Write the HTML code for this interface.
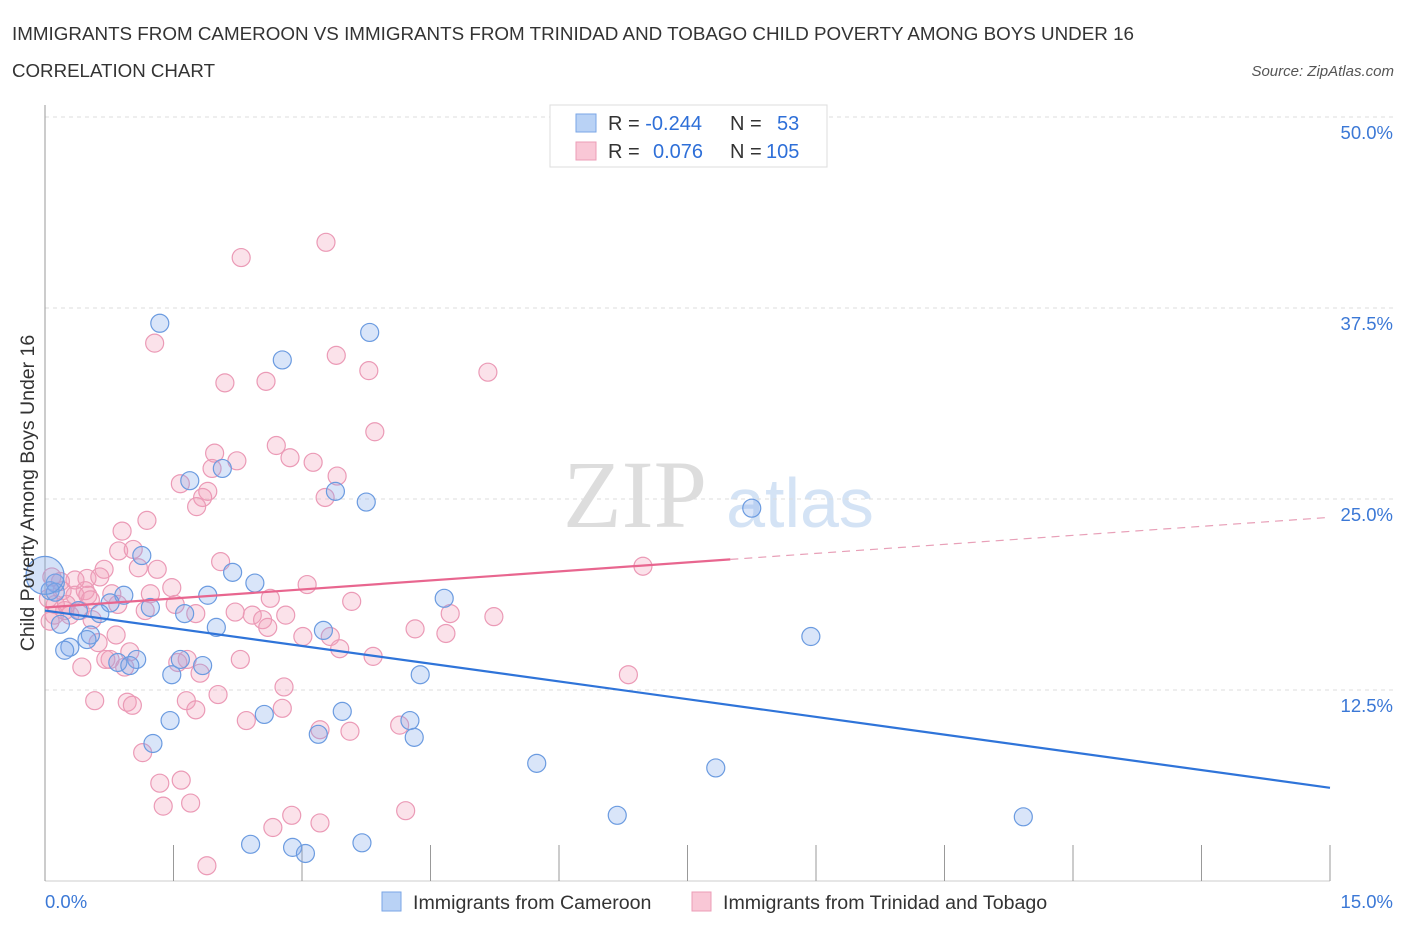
<!DOCTYPE html>
<html><head><meta charset="utf-8"><style>
body{margin:0;background:#fff;font-family:"Liberation Sans",sans-serif;}
svg{display:block}
</style></head><body>
<svg id="chart" width="1406" height="930" viewBox="0 0 1406 930" xmlns="http://www.w3.org/2000/svg">
<text x="12" y="40" font-size="18" fill="#333" textLength="1122" lengthAdjust="spacingAndGlyphs">IMMIGRANTS FROM CAMEROON VS IMMIGRANTS FROM TRINIDAD AND TOBAGO CHILD POVERTY AMONG BOYS UNDER 16</text>
<text x="12" y="77" font-size="18" fill="#333" textLength="203" lengthAdjust="spacingAndGlyphs">CORRELATION CHART</text>
<text x="1394" y="76" font-size="15" fill="#555" text-anchor="end" font-style="italic">Source: ZipAtlas.com</text>
<g>
<text x="635" y="527" font-size="96" fill="#ddd" text-anchor="middle" font-family="Liberation Serif, serif">ZIP</text>
<text x="800" y="527" font-size="70" fill="#d4e3f5" text-anchor="middle">atlas</text>
</g>
<g id="grid"></g>
<g id="axes"></g>
<g id="marks"></g>
<text transform="translate(34,493) rotate(-90)" font-size="19.5" fill="#333" text-anchor="middle">Child Poverty Among Boys Under 16</text>
<g>
<rect x="550" y="105" width="277" height="62" fill="#fff" stroke="#ddd"/>
<rect x="576" y="114" width="20" height="18" fill="#b9d2f5" stroke="#7aa6e6"/>
<rect x="576" y="142" width="20" height="18" fill="#f9c7d6" stroke="#ec9cb7"/>
<text x="608" y="130" font-size="20" fill="#333">R = <tspan fill="#2e6fd8">-0.244</tspan></text>
<text x="730" y="130" font-size="20" fill="#333">N = </text><text x="777" y="130" font-size="20" fill="#2e6fd8">53</text>
<text x="608" y="158" font-size="20" fill="#333">R = </text><text x="653" y="158" font-size="20" fill="#2e6fd8">0.076</text>
<text x="730" y="158" font-size="20" fill="#333">N = </text><text x="766" y="158" font-size="20" fill="#2e6fd8">105</text>
</g>
<g>
<rect x="382" y="892" width="19" height="19" fill="#b9d2f5" stroke="#7aa6e6"/>
<text x="413" y="909" font-size="19.6" fill="#333">Immigrants from Cameroon</text>
<rect x="692" y="892" width="19" height="19" fill="#f9c7d6" stroke="#ec9cb7"/>
<text x="723" y="909" font-size="19.6" fill="#333">Immigrants from Trinidad and Tobago</text>
</g>
</svg>
<script>
const blueX=[1.34,3.79,2.77,1.69,2.07,3.39,3.75,8.25,1.13,2.19,2.45,1.90,4.66,0.92,0.76,1.23,1.63,0.64,0.39,0.12,0.06,0.18,0.53,0.29,0.49,2.00,3.25,0.85,1.07,0.99,1.84,1.48,1.58,4.38,8.94,2.56,3.47,4.26,1.46,1.26,3.19,4.31,5.74,7.83,6.68,11.42,2.40,2.89,3.04,3.70,0.12,0.23];
const blueY=[36.5,35.9,34.1,26.2,27.0,25.5,24.8,24.4,21.3,20.2,19.5,18.7,18.5,18.7,18.2,17.9,17.5,17.5,17.7,19.5,19.0,16.8,16.1,15.3,15.8,16.6,16.4,14.3,14.5,14.1,14.1,13.5,14.5,13.5,16.0,10.9,11.1,10.5,10.5,9.0,9.6,9.4,7.7,7.4,4.3,4.2,2.4,2.2,1.8,2.5,18.9,15.1];
const bigX=[0.0], bigY=[20.0];
const pinkX=[3.28,2.29,1.28,3.40,2.10,2.58,3.78,5.17,3.85,2.70,1.98,2.86,2.24,3.13,1.95,3.41,1.58,1.90,1.84,3.27,1.77,1.19,0.90,0.86,1.03,2.05,1.09,1.31,6.98,0.69,0.49,0.64,0.35,0.18,0.08,3.06,1.48,1.23,0.78,0.47,0.85,1.17,1.52,3.58,1.76,2.42,2.81,2.54,4.73,5.24,0.23,0.12,0.29,0.41,0.55,0.06,4.32,4.68,2.60,3.33,0.83,3.44,0.62,3.83,0.99,0.76,0.93,1.66,1.55,1.81,0.43,6.81,2.79,2.02,0.58,0.96,1.65,1.02,1.76,2.35,2.77,4.14,3.56,3.21,1.14,1.34,1.59,1.70,1.38,4.21,2.88,3.21,2.66,1.89,0.20,0.35,0.50,0.04,0.11,0.71,2.28,2.22,3.01,2.63,0.25,0.53];
const pinkY=[41.8,40.8,35.2,34.4,32.6,32.7,33.4,33.3,29.4,28.5,28.0,27.7,27.5,27.4,27.0,26.5,26.0,25.5,25.1,25.1,24.5,23.6,22.9,21.6,21.7,20.9,20.5,20.4,20.6,20.4,19.8,19.9,19.7,19.6,19.9,19.4,19.2,18.8,18.8,19.0,18.1,17.7,18.1,18.3,17.5,17.4,17.4,17.1,17.5,17.3,17.7,18.1,17.4,17.7,17.1,17.0,16.5,16.2,16.6,16.0,16.1,15.2,15.6,14.7,15.0,14.5,14.0,14.5,14.3,13.6,14.0,13.5,12.7,12.2,11.8,11.7,11.8,11.5,11.2,10.5,11.3,10.2,9.8,9.9,8.4,6.4,6.6,5.1,4.9,4.6,4.3,3.8,3.5,1.0,19.0,18.7,18.7,18.5,17.4,14.5,14.5,17.6,16.0,18.5,18.1,18.4];
const blueTrend=[17.7,6.1];   // y at x=0, x=15
const pinkTrend=[17.9,23.8];
const pinkSolidEnd=[8.0];
const yTicks=[12.5,25,37.5,50];
const yTickLabels=["12.5%","25.0%","37.5%","50.0%"];
const xTicks=[0,1.5,3,4.5,6,7.5,9,10.5,12,13.5,15];

const X0=45,X1=1330,Y0=881,PXY=15.28;
const sx=v=>X0+(v/15)*(X1-X0);
const sy=v=>Y0-v*PXY;
const NS="http://www.w3.org/2000/svg";
function mk(tag,attrs,parent){const e=document.createElementNS(NS,tag);for(const k in attrs)e.setAttribute(k,attrs[k]);parent.appendChild(e);return e;}
const grid=document.getElementById('grid'),axes=document.getElementById('axes'),marks=document.getElementById('marks');
yTicks.forEach((t,i)=>{
 const l=mk('line',{x1:X0,x2:1395,y1:sy(t),y2:sy(t),stroke:'#ddd','stroke-dasharray':'4,4'},grid);
 
 
 const tx=mk('text',{x:1393,y:sy(t)+22,'font-size':18.5,fill:'#3b78d6','text-anchor':'end'},axes);
 tx.textContent=yTickLabels[i];
 
 
});
const ax=mk('line',{x1:X0,x2:X0,y1:105,y2:Y0,stroke:'#999'},axes);


const bx=mk('line',{x1:X0,x2:X1,y1:Y0,y2:Y0,stroke:'#ccc'},axes);


xTicks.forEach(t=>{
 const l=mk('line',{x1:sx(t),x2:sx(t),y1:845,y2:Y0,stroke:'#999'},axes);
 
 
});
const xl=mk('text',{x:45,y:908,'font-size':18.5,fill:'#3b78d6'},axes);xl.textContent='0.0%';


const xr=mk('text',{x:1393,y:908,'font-size':18.5,fill:'#3b78d6','text-anchor':'end'},axes);xr.textContent='15.0%';



pinkX.forEach((x,i)=>{
 const c=mk('circle',{cx:sx(x),cy:sy(pinkY[i]),r:9,fill:'rgba(243,160,187,0.3)',stroke:'#eb9ab6','stroke-width':1.2},marks);
 
 
});
blueX.forEach((x,i)=>{
 const c=mk('circle',{cx:sx(x),cy:sy(blueY[i]),r:9,fill:'rgba(130,170,235,0.3)',stroke:'#6b9be0','stroke-width':1.2},marks);
 
 
});
bigX.forEach((x,i)=>{
 const c=mk('circle',{cx:sx(x),cy:sy(bigY[i]),r:19,fill:'rgba(130,170,235,0.35)',stroke:'#6b9be0','stroke-width':1.2},marks);
 
 
});
const bl=mk('line',{x1:sx(0),y1:sy(blueTrend[0]),x2:sx(15),y2:sy(blueTrend[1]),stroke:'#2f74d9','stroke-width':2.2},marks);


const pAt=x=>pinkTrend[0]+(pinkTrend[1]-pinkTrend[0])*x/15;
const ps=mk('line',{x1:sx(0),y1:sy(pAt(0)),x2:sx(pinkSolidEnd[0]),y2:sy(pAt(pinkSolidEnd[0])),stroke:'#e8668f','stroke-width':2.2},marks);


const pd=mk('line',{x1:sx(pinkSolidEnd[0]),y1:sy(pAt(pinkSolidEnd[0])),x2:sx(15),y2:sy(pAt(15)),stroke:'#e8a0b8','stroke-width':1.2,'stroke-dasharray':'8,6'},marks);


</script>
</body></html>
